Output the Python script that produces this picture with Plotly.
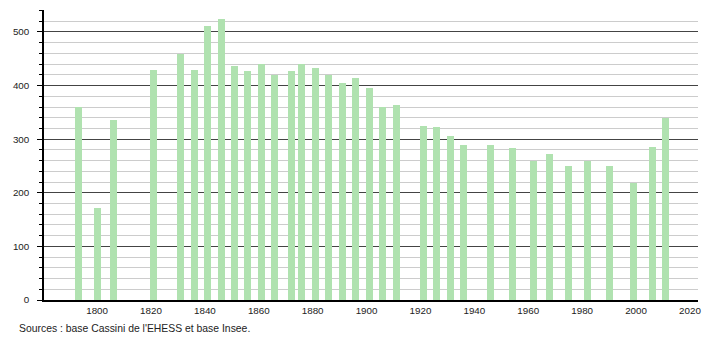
import plotly.graph_objects as go

years = [1793, 1800, 1806, 1821, 1831, 1836, 1841, 1846, 1851, 1856, 1861, 1866,
         1872, 1876, 1881, 1886, 1891, 1896, 1901, 1906, 1911, 1921, 1926, 1931,
         1936, 1946, 1954, 1962, 1968, 1975, 1982, 1990, 1999, 2006, 2011]
population = [360, 172, 336, 430, 458, 430, 512, 525, 437, 427, 440, 420,
              428, 440, 433, 419, 404, 415, 396, 360, 364, 325, 323, 306,
              290, 290, 284, 259, 273, 250, 259, 250, 219, 286, 339]
x_ticks = [1800, 1820, 1840, 1860, 1880, 1900, 1920, 1940, 1960, 1980, 2000, 2020]
y_ticks = [0, 100, 200, 300, 400, 500]
source_text = "Sources : base Cassini de l'EHESS et base Insee."

font_family = "Liberation Sans, Arial, sans-serif"

fig = go.Figure()
fig.add_trace(go.Bar(
    x=years, y=population, width=2.6,
    marker=dict(color="rgb(176,226,176)", line=dict(width=0)),
    hoverinfo="x+y",
))

fig.update_layout(
    width=710, height=340,
    margin=dict(l=44, r=9, t=10, b=40),
    paper_bgcolor="white", plot_bgcolor="white",
    showlegend=False,
    font=dict(family=font_family, size=10, color="#222"),
    xaxis=dict(
        range=[1780.3, 2023], tickvals=x_ticks, ticks="",
        showgrid=False, zeroline=False,
        showline=True, linecolor="black", linewidth=1.5,
        tickfont=dict(size=9.8), ticklabelstandoff=0,
    ),
    yaxis=dict(
        range=[0, 541], tickvals=y_ticks,
        showgrid=True, gridcolor="#444", gridwidth=1,
        zeroline=False, showline=True, linecolor="black", linewidth=1.5,
        ticks="outside", ticklen=5, tickcolor="black", tickwidth=1,
        tickfont=dict(size=9.8), ticklabelstandoff=6,
        minor=dict(dtick=20, showgrid=True, gridcolor="#cccccc", gridwidth=1,
                   ticks="outside", ticklen=3, tickcolor="black"),
    ),
    bargap=0,
)

fig.add_annotation(
    text=source_text, xref="paper", yref="paper",
    x=(17 - 44) / 657, y=-28 / 290, xanchor="left", yanchor="middle",
    showarrow=False, font=dict(size=10.4, color="#222", family=font_family),
)

fig.write_html("out.html")
